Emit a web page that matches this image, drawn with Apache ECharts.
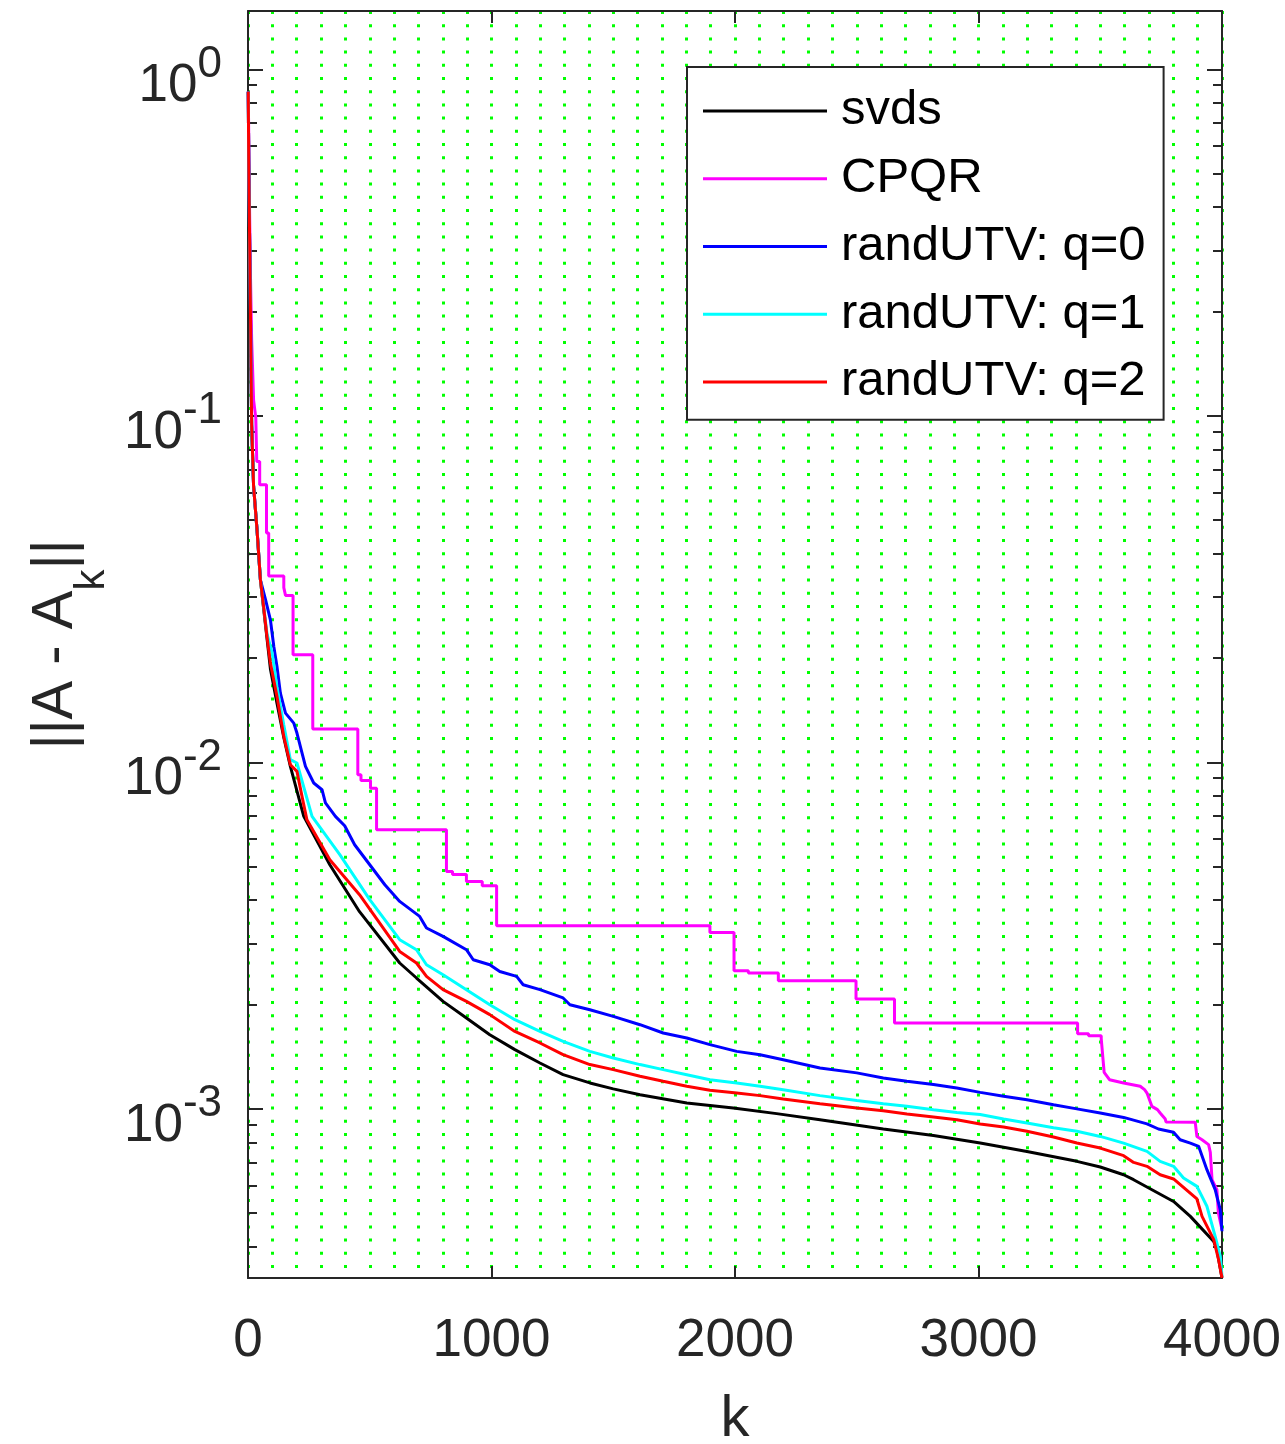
<!DOCTYPE html>
<html>
<head>
<meta charset="utf-8">
<script src="https://cdn.jsdelivr.net/npm/echarts@6/dist/echarts.min.js"></script>
<style>
html,body{margin:0;padding:0;background:#fff;}
#chart{width:1285px;height:1444px;}
</style>
</head>
<body>
<div id="chart"></div>
<script>
// ---------------- data ----------------
const seriesNames = ['svds', 'CPQR', 'randUTV: q=0', 'randUTV: q=1', 'randUTV: q=2'];

const kSvds = [1,3,6,10,15,23,37,51,64,78,92,119,147,174,229,336,458,623,692,801,897,993,1096,1199,1294,1404,1500,1610,1802,1993,2171,2349,2609,2815,3007,3199,3404,3500,3596,3637,3801,3870,3966,3979,4000];
const vSvds = [0.862,0.547,0.3515,0.202,0.0941,0.0625,0.0469,0.0336,0.0278,0.0228,0.0186,0.0148,0.0118,0.00973,0.00698,0.00506,0.003704,0.002634,0.002384,0.002041,0.001828,0.001636,0.001481,0.001355,0.001254,0.001187,0.001141,0.001098,0.001039,0.001005,0.000968,0.000930,0.000874,0.000837,0.000796,0.000753,0.000705,0.000679,0.000645,0.000624,0.000540,0.000489,0.000414,0.000392,0.000325];

const kCPQR = [1,5,9,15,23,32,36,36,48,48,76,76,85,85,147,147,154,154,185,185,266,266,451,451,464,464,503,503,528,528,815,815,840,840,897,897,962,962,1021,1021,1897,1897,1996,1996,2055,2055,2178,2178,2497,2497,2655,2655,3407,3407,3452,3452,3504,3504,3512,3516,3538,3596,3664,3682,3692,3712,3735,3746,3767,3770,3890,3897,3918,3945,3952,3959,3979,3985,4000];
const vCPQR = [0.862,0.479,0.282,0.166,0.111,0.0986,0.0986,0.0738,0.0738,0.0632,0.0632,0.0459,0.0459,0.0345,0.0345,0.0319,0.0319,0.0303,0.0303,0.02043,0.02043,0.01247,0.01247,0.0092,0.0092,0.00886,0.00886,0.00842,0.00842,0.00639,0.00639,0.00484,0.00484,0.00474,0.00474,0.00453,0.00453,0.0044,0.0044,0.003376,0.003376,0.003228,0.003228,0.002503,0.002503,0.002464,0.002464,0.002342,0.002342,0.002074,0.002074,0.001768,0.001768,0.001647,0.001647,0.001625,0.001625,0.001593,0.001593,0.001274,0.001213,0.001187,0.001161,0.001135,0.00111,0.001016,0.000994,0.000972,0.000934,0.000916,0.000914,0.000831,0.000814,0.000788,0.000748,0.000624,0.000584,0.000501,0.000448];

const kQ0 = [1,3,6,10,15,23,37,51,72,92,106,119,133,154,188,201,222,236,270,304,318,359,397,438,500,562,623,705,733,801,897,925,993,1034,1103,1130,1199,1294,1322,1404,1500,1610,1705,1802,1897,2007,2103,2198,2349,2500,2609,2706,2815,2911,3007,3103,3199,3308,3404,3500,3596,3692,3739,3801,3828,3870,3904,3938,3972,3993,4000];
const vQ0 = [0.862,0.547,0.3515,0.202,0.0941,0.0625,0.0469,0.0336,0.02947,0.02577,0.02158,0.0189,0.01583,0.01386,0.01297,0.01214,0.01063,0.00973,0.00871,0.00833,0.00763,0.00698,0.00656,0.00578,0.00506,0.00443,0.003967,0.00359,0.003323,0.003143,0.002877,0.002692,0.002604,0.00249,0.00241,0.00228,0.002206,0.002088,0.001996,0.001931,0.001848,0.001748,0.001654,0.0016,0.001531,0.001464,0.001432,0.001385,0.001311,0.001269,0.001227,0.0012,0.001174,0.001148,0.001115,0.001086,0.001062,0.001027,0.000999,0.000972,0.000944,0.000904,0.000874,0.000855,0.000814,0.000796,0.000779,0.000667,0.000584,0.000511,0.000443];

const kQ1 = [1,3,6,10,15,23,37,51,64,78,99,119,147,174,201,263,377,500,623,692,733,801,897,993,1096,1199,1294,1404,1500,1610,1705,1802,1897,2007,2103,2198,2349,2500,2609,2706,2815,2911,3007,3103,3199,3308,3404,3500,3596,3692,3746,3801,3842,3897,3938,3972,3993,4000];
const vQ1 = [0.862,0.547,0.3515,0.202,0.0941,0.0625,0.0469,0.0336,0.02815,0.0235,0.0207,0.0165,0.0128,0.01017,0.00995,0.00698,0.00541,0.004012,0.003075,0.002877,0.002604,0.002436,0.002206,0.001996,0.001807,0.001672,0.001564,0.001464,0.001401,0.001341,0.001297,0.001254,0.001213,0.001187,0.001161,0.001135,0.001091,0.001057,0.001034,0.001016,0.000994,0.000976,0.000962,0.000934,0.00091,0.000881,0.000861,0.000832,0.000796,0.000753,0.000705,0.000682,0.000631,0.000597,0.000523,0.000428,0.000375,0.000328];

const kQ2 = [1,3,6,10,15,23,37,51,64,78,92,119,147,174,201,222,242,336,458,623,692,733,801,897,993,1096,1199,1294,1404,1500,1610,1705,1802,1897,2007,2103,2198,2349,2500,2609,2706,2815,2911,3007,3103,3199,3308,3404,3500,3596,3637,3692,3746,3801,3897,3918,3966,3986,4000];
const vQ2 = [0.862,0.547,0.3515,0.202,0.0941,0.0625,0.0469,0.0336,0.02815,0.02307,0.01933,0.01549,0.01187,0.00984,0.00941,0.00796,0.00682,0.00523,0.004146,0.002844,0.002634,0.00241,0.002206,0.002041,0.001869,0.001672,0.001548,0.001432,0.001341,0.001297,0.001241,0.0012,0.001161,0.00113,0.00111,0.001091,0.001067,0.001034,0.001005,0.000987,0.000966,0.000947,0.00093,0.000904,0.000886,0.000861,0.000829,0.000796,0.00077,0.000732,0.0007,0.000682,0.000645,0.000627,0.000549,0.000489,0.000419,0.000367,0.000325];

// axis ticks
const xMin = 0, xMax = 4000, xStep = 1000;
const yMin = 3.247e-4, yMax = 1.473;
const yMajorTicks = [0.001, 0.01, 0.1, 1];
const yMinorTicks = [0.0004,0.0005,0.0006,0.0007,0.0008,0.0009,
                     0.002,0.003,0.004,0.005,0.006,0.007,0.008,0.009,
                     0.02,0.03,0.04,0.05,0.06,0.07,0.08,0.09,
                     0.2,0.3,0.4,0.5,0.6,0.7,0.8,0.9];

// ---------------- chart ----------------
const FONT = "'Liberation Sans', Arial, Helvetica, sans-serif";
const AX = '#262626';
const GREEN_DOT = {color: '#00ff00', width: 3, type: [3, 10.2]};

function pairs(ks, vs) { return ks.map((k, i) => [k, vs[i]]); }

const colors = ['#000000', '#ff00ff', '#0000ff', '#00ffff', '#ff0000'];
const dataSets = [pairs(kSvds, vSvds), pairs(kCPQR, vCPQR), pairs(kQ0, vQ0), pairs(kQ1, vQ1), pairs(kQ2, vQ2)];

function yAxisCfg(pos, ticks, len, withLine, withLabel) {
  const a = {
    type: 'log', logBase: 10, position: pos, min: yMin, max: yMax,
    axisLine: {show: withLine, lineStyle: {color: AX, width: 2}},
    axisTick: {show: true, inside: true, length: len, customValues: ticks, lineStyle: {color: AX, width: 2}},
    axisLabel: {show: false},
    splitLine: {show: false},
    minorTick: {show: false}, minorSplitLine: {show: false}
  };
  if (withLabel) {
    a.axisLabel = {
      show: true, customValues: yMajorTicks, margin: 26, color: AX,
      padding: [0, 0, 0, 0],
      formatter: function (v) { const e = Math.round(Math.log10(v)); return '{m|10}{s|' + e + '}'; },
      rich: {
        m: {fontFamily: FONT, fontSize: 53, lineHeight: 53, color: AX, verticalAlign: 'top', padding: [17.5, 0, 0, 0]},
        s: {fontFamily: FONT, fontSize: 44, lineHeight: 44, color: AX, verticalAlign: 'top'}
      }
    };
    a.name = '||A - A{sub|k}||';
    a.nameLocation = 'middle';
    a.nameRotate = 90;
    a.nameGap = 154;
    a.nameTextStyle = {
      fontFamily: FONT, fontSize: 58, color: AX,
      rich: {
        sub: {fontFamily: FONT, fontSize: 42, lineHeight: 42, color: AX, verticalAlign: 'top', padding: [44, 0, 0, 0]}
      },
      lineHeight: 58, verticalAlign: 'top'
    };
  }
  return a;
}

const option = {
  animation: false,
  backgroundColor: '#ffffff',
  grid: {left: 248, right: 63, top: 11, bottom: 166, containLabel: false, outerBoundsMode: 'none'},
  legend: {
    orient: 'vertical', left: 687, top: 67,
    padding: [10, 18, 4, 16], itemGap: 0, itemWidth: 124, itemHeight: 3, icon: 'rect',
    backgroundColor: '#ffffff', borderColor: AX, borderWidth: 2, borderRadius: 0,
    selectedMode: false,
    textStyle: {fontFamily: FONT, fontSize: 49, lineHeight: 67.75, color: '#000', padding: [0, 0, 0, 9]},
    data: seriesNames
  },
  xAxis: [
    {
      type: 'value', position: 'bottom', min: xMin, max: xMax, interval: xStep,
      axisLine: {show: true, onZero: false, lineStyle: {color: AX, width: 2}},
      axisTick: {show: true, inside: true, length: 12, lineStyle: {color: AX, width: 2}},
      axisLabel: {show: true, margin: 37, fontFamily: FONT, fontSize: 53, lineHeight: 53, color: AX,
                  formatter: function (v) { return String(v); }},
      splitLine: {show: true, lineStyle: GREEN_DOT},
      minorTick: {show: false, splitNumber: 10},
      minorSplitLine: {show: true, lineStyle: GREEN_DOT},
      name: 'k', nameLocation: 'middle', nameGap: 113,
      nameTextStyle: {fontFamily: FONT, fontSize: 58, lineHeight: 58, color: AX}
    },
    {
      type: 'value', position: 'top', min: xMin, max: xMax, interval: xStep,
      axisLine: {show: true, onZero: false, lineStyle: {color: AX, width: 2}},
      axisTick: {show: true, inside: true, length: 12, lineStyle: {color: AX, width: 2}},
      axisLabel: {show: false}, splitLine: {show: false}
    }
  ],
  yAxis: [
    yAxisCfg('left', yMajorTicks, 15, true, true),
    yAxisCfg('left', yMinorTicks, 9, false, false),
    yAxisCfg('right', yMajorTicks, 15, true, false),
    yAxisCfg('right', yMinorTicks, 9, false, false)
  ],
  series: seriesNames.map((name, i) => ({
    name: name, type: 'line', xAxisIndex: 0, yAxisIndex: 0,
    data: dataSets[i], showSymbol: false, symbol: 'none',
    lineStyle: {color: colors[i], width: 3},
    itemStyle: {color: colors[i]},
    z: 2 + i, clip: true
  }))
};

const chart = echarts.init(document.getElementById('chart'), null, {renderer: 'canvas'});
chart.setOption(option);
</script>
</body>
</html>
